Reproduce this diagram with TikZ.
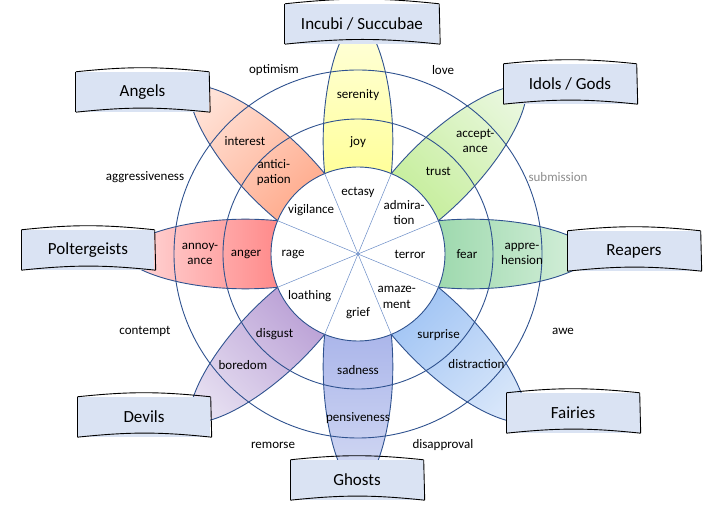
\documentclass[tikz,border=0pt]{standalone}
\usepackage{fontspec}
\setmainfont{Carlito}
\usetikzlibrary{calc}

\definecolor{wheelline}{HTML}{2F528F}
\definecolor{spokeline}{HTML}{6A8CC7}
\definecolor{boxfill}{HTML}{DAE3F3}
\definecolor{joyin}{HTML}{FFFF9A}      \definecolor{joyout}{HTML}{FFFFE0}
\definecolor{trustin}{HTML}{C6EE9C}    \definecolor{trustout}{HTML}{E8F7DC}
\definecolor{fearin}{HTML}{9ED9AE}     \definecolor{fearout}{HTML}{DAF1DE}
\definecolor{surprisein}{HTML}{A2C5F4} \definecolor{surpriseout}{HTML}{D9E7FA}
\definecolor{sadin}{HTML}{ABB6EA}      \definecolor{sadout}{HTML}{D6DCF4}
\definecolor{disgustin}{HTML}{BBA1D6}  \definecolor{disgustout}{HTML}{E6DFF1}
\definecolor{angerin}{HTML}{FF8A8A}    \definecolor{angerout}{HTML}{FFDEDE}
\definecolor{anticin}{HTML}{FFAC8E}    \definecolor{anticout}{HTML}{FFE2D7}

\begin{document}
\begin{tikzpicture}[x=1pt,y=1pt,font=\fontsize{13}{15.6}\selectfont,align=center,
  petal/.style={draw=wheelline,line width=0.9pt},
  ring/.style={draw=wheelline,line width=0.9pt},
  spoke/.style={draw=spokeline,line width=0.5pt},
  sketch/.style={draw=black,line width=0.9pt},
  being/.style={fill=boxfill,font=\fontsize{17}{20}\selectfont,
    minimum width=133pt,minimum height=40pt,inner xsep=16pt,
    append after command={
      (\tikzlastnode.north west) edge[sketch,bend left=6] (\tikzlastnode.north east)
      (\tikzlastnode.north east) edge[sketch] ([xshift=1pt]\tikzlastnode.south east)
      (\tikzlastnode.south west) edge[sketch,bend left=6] ([xshift=1pt]\tikzlastnode.south east)
      (\tikzlastnode.north west) edge[sketch] (\tikzlastnode.south west)}}]

\useasboundingbox (-358,-254) rectangle (362,254);

% petals, inner colour at the hub end
\foreach \a/\cin/\cout in {90/joyin/joyout, 45/trustin/trustout, 0/fearin/fearout,
    -45/surprisein/surpriseout, -90/sadin/sadout, -135/disgustin/disgustout,
    180/angerin/angerout, 135/anticin/anticout}
{
  \pgfmathsetmacro\sa{\a-90}
  \draw[petal,top color=\cout,bottom color=\cin,shading angle=\sa]
    (\a+22.5:87) .. controls (\a+14.93:155.2) and (\a+6.23:221.3) .. (\a:238)
    .. controls (\a-6.23:221.3) and (\a-14.93:155.2) .. (\a-22.5:87) -- cycle;
}

% rings
\coordinate (hub) at (0,0);
\draw[ring] (hub) circle[radius=184];
\draw[ring] (hub) circle[radius=135];
\draw[ring,fill=white] (hub) circle[radius=87];
\foreach \a in {22.5,67.5,...,337.5}
  \draw[spoke] (hub) -- (\a:87);

% inner ring
\node (ectasy)       at (90:62)   {ectasy};
\node (admiration)   at (42:62)   {admira-\\tion};
\node (terror)       at (0:52)    {terror};
\node (amazement)    at (312:58)  {amaze-\\ment};
\node (grief)        at (270:59)  {grief};
\node (loathing)     at (221:64)  {loathing};
\node (rage)         at (180:65)  {rage};
\node (vigilance)    at (137:64)  {vigilance};

% middle ring
\node (joy)          at (90:112)  {joy};
\node (trust)        at (45.7:115){trust};
\node (fear)         at (0:109)   {fear};
\node (surprise)     at (315:114) {surprise};
\node (sadness)      at (270:116) {sadness};
\node (disgust)      at (224:116) {disgust};
\node (anger)        at (180:112) {anger};
\node (anticipation) at (136:117) {antici-\\pation};

% outer ring
\node (serenity)     at (90:159)  {serenity};
\node (acceptance)   at (44:163)  {accept-\\ance};
\node (apprehension) at (0:164)   {appre-\\hension};
\node (distraction)  at (317:162) {distraction};
\node (pensiveness)  at (270:164) {pensiveness};
\node (boredom)      at (224:160) {boredom};
\node (annoyance)    at (180:158) {annoy-\\ance};
\node (interest)     at (135:160) {interest};

% dyads
\node (optimism)       at (-84,184)  {optimism};
\node (love)           at (85,184)   {love};
\node (submission)     at (200,77)   [text=black!45] {submission};
\node (awe)            at (205,-77)  {awe};
\node (disapproval)    at (85,-191)  {disapproval};
\node (remorse)        at (-85,-191) {remorse};
\node (contempt)       at (-213,-77) {contempt};
\node (aggressiveness) at (-213,77)  {aggressiveness};

% beings
\node[being] (incubi)       at (4,230)      {Incubi / Succubae};
\node[being] (idols)        at (212,170)    {Idols / Gods};
\node[being] (reapers)      at (276,3)      {Reapers};
\node[being] (fairies)      at (215,-159)   {Fairies};
\node[being] (ghosts)       at (-1,-226)    {Ghosts};
\node[being] (devils)       at (-214,-163)  {Devils};
\node[being] (poltergeists) at (-270,4)     {Poltergeists};
\node[being] (angels)       at (-215.5,162) {Angels};
\end{tikzpicture}
\end{document}
